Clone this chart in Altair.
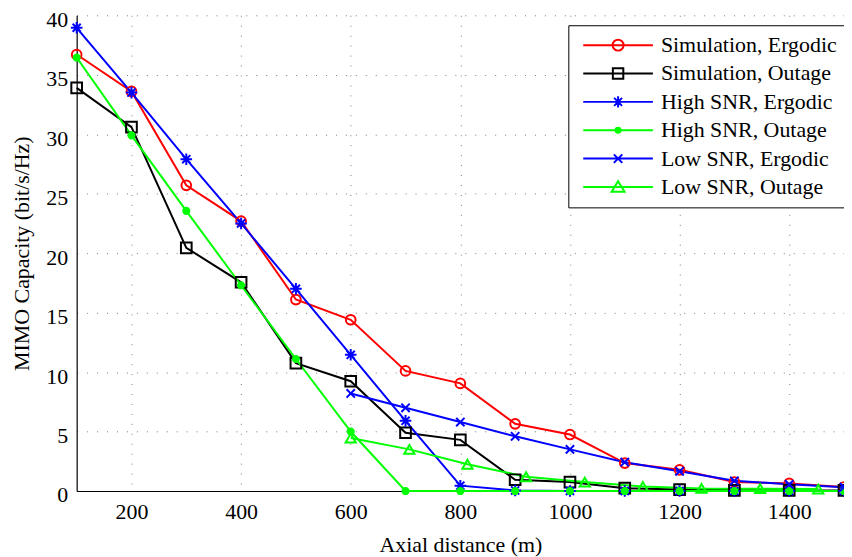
import altair as alt
import pandas as pd

# ---- data ----
series_names = ["Simulation, Ergodic", "Simulation, Outage", "High SNR, Ergodic",
                "High SNR, Outage", "Low SNR, Ergodic", "Low SNR, Outage"]
series_colors = ["#ff0000", "#000000", "#0000ff", "#00ff00", "#0000ff", "#00ff00"]

dist = [100, 200, 300, 400, 500, 600, 700, 800, 900, 1000, 1100, 1200, 1300, 1400, 1500]
sim_ergodic = [36.7, 33.6, 25.7, 22.7, 16.1, 14.4, 10.1, 9.05, 5.65, 4.75, 2.35, 1.78, 0.76, 0.64, 0.34]
sim_outage = [33.9, 30.6, 20.45, 17.55, 10.75, 9.23, 4.9, 4.3, 0.95, 0.75, 0.24, 0.12, 0.06, 0.05, 0.05]
high_ergodic = [38.95, 33.5, 27.9, 22.5, 17.0, 11.45, 5.9, 0.45, 0.05, 0.0, 0.0, 0.0, 0.0, 0.0, 0.0]
high_outage = [36.45, 29.9, 23.55, 17.3, 11.1, 5.0, 0.0, 0.0, 0.0, 0.0, 0.0, 0.0, 0.0, 0.0, 0.0]

low_erg_dist = [600, 700, 800, 900, 1000, 1100, 1200, 1300, 1400, 1500]
low_ergodic = [8.2, 7.0, 5.8, 4.6, 3.5, 2.42, 1.66, 0.86, 0.56, 0.32]

low_out_dist = [600, 707, 813, 920, 1027, 1133, 1240, 1347, 1453]
low_outage = [4.45, 3.5, 2.25, 1.2, 0.75, 0.38, 0.22, 0.2, 0.16]

x_ticks = [200, 400, 600, 800, 1000, 1200, 1400]
y_ticks = [0, 5, 10, 15, 20, 25, 30, 35, 40]

# ---- build table ----
rows = []
def add(name, xs, ys):
    for i, (a, b) in enumerate(zip(xs, ys)):
        rows.append({"series": name, "dist": a, "cap": b, "idx": i})

add(series_names[0], dist, sim_ergodic)
add(series_names[1], dist, sim_outage)
add(series_names[2], dist, high_ergodic)
add(series_names[3], dist, high_outage)
add(series_names[4], low_erg_dist, low_ergodic)
add(series_names[5], low_out_dist, low_outage)
df = pd.DataFrame(rows)

# marker shapes (data)
ASTER = "M0,-1V1M-1,0H1M-0.7,-0.7L0.7,0.7M-0.7,0.7L0.7,-0.7"
XMARK = "M-1,-1L1,1M-1,1L1,-1"
data_shapes = ["circle", "square", ASTER, "circle", XMARK, "triangle-up"]
data_sizes = [95, 115, 135, 38, 70, 105]
data_filled = [False, False, False, True, False, False]
fill_range = ["transparent", "transparent", "transparent", "#00ff00", "transparent", "transparent"]

# legend symbols: line segment + marker (units of 5 px with symbolSize 100)
LINE = "M-7,0H7"
legend_shapes = [
    LINE + "M1.1,0A1.1,1.1 0 1,1 -1.1,0A1.1,1.1 0 1,1 1.1,0Z",
    LINE + "M-1.05,-1.05H1.05V1.05H-1.05Z",
    LINE + "M0,-1.15V1.15M-1.15,0H1.15M-0.8,-0.8L0.8,0.8M-0.8,0.8L0.8,-0.8",
    LINE + "M0.5,0A0.5,0.5 0 1,1 -0.5,0A0.5,0.5 0 1,1 0.5,0ZM0.15,0A0.15,0.15 0 1,1 -0.15,0A0.15,0.15 0 1,1 0.15,0Z",
    LINE + "M-0.85,-0.85L0.85,0.85M-0.85,0.85L0.85,-0.85",
    LINE + "M0,-1.15L1.3,0.95H-1.3Z",
]

FONT = "Liberation Serif"

x_enc = alt.X("dist:Q", scale=alt.Scale(domain=[100, 1500], nice=False, zero=False),
              axis=alt.Axis(values=x_ticks, title="Axial distance (m)", grid=True, format="d"))
y_enc = alt.Y("cap:Q", scale=alt.Scale(domain=[0, 40], nice=False),
              axis=alt.Axis(values=y_ticks, title="MIMO Capacity (bit/s/Hz)", grid=True))
color_scale = alt.Scale(domain=series_names, range=series_colors)

legend_cfg = alt.Legend(
    title=None, orient="none", legendX=494, legendY=10,
    strokeColor="black", fillColor="white", padding=9, cornerRadius=0,
    labelFont=FONT, labelFontSize=22, labelColor="black", labelLimit=400,
    symbolSize=100, symbolStrokeWidth=2, symbolOffset=30, labelOffset=32,
    rowPadding=6.5, symbolOpacity=1, symbolFillColor="transparent",
)

# legend-only layer (no data drawn)
legend_layer = alt.Chart(df).transform_filter("false").mark_point(
    filled=False, strokeWidth=2, opacity=1
).encode(
    x=x_enc, y=y_enc,
    color=alt.Color("series:N", scale=color_scale, legend=legend_cfg),
    shape=alt.Shape("series:N", scale=alt.Scale(domain=series_names, range=legend_shapes), legend=legend_cfg),
)

stroke_scale = alt.Scale(domain=series_names, range=series_colors)

lines = alt.Chart(df).mark_line(strokeWidth=2).encode(
    x="dist:Q", y="cap:Q",
    stroke=alt.Stroke("series:N", scale=stroke_scale, legend=None),
    detail="series:N",
    order="idx:Q",
)

point_layers = []
for i, name in enumerate(series_names):
    mark_kw = dict(shape=data_shapes[i], size=data_sizes[i], strokeWidth=2, opacity=1)
    if data_filled[i]:
        mark_kw["fill"] = series_colors[i]
    else:
        mark_kw["fill"] = "transparent"
    point_layers.append(
        alt.Chart(df).transform_filter(alt.datum.series == name).mark_point(**mark_kw).encode(
            x="dist:Q", y="cap:Q",
            stroke=alt.Stroke("series:N", scale=stroke_scale, legend=None),
        )
    )

chart = alt.layer(legend_layer, lines, *point_layers).properties(
    width=771, height=478,
    autosize=alt.AutoSizeParams(type="none"),
    padding={"left": 69, "top": 6, "right": 0, "bottom": 70},
    background="white",
).configure_view(
    stroke=None
).configure_axis(
    labelFont=FONT, labelFontSize=22, labelColor="black",
    titleFont=FONT, titleFontSize=22, titleColor="black", titleFontWeight="normal",
    domainColor="black", domainWidth=1.2,
    tickSize=0, labelPadding=9,
    gridColor="#444", gridDash=[1, 9], gridWidth=1, gridOpacity=0.7,
).configure_axisX(
    labelPadding=11, titlePadding=12,
).configure_axisY(
    titlePadding=12, labelOffset=4,
)

chart.save("out.html", embed_options={"renderer": "svg", "actions": False})
